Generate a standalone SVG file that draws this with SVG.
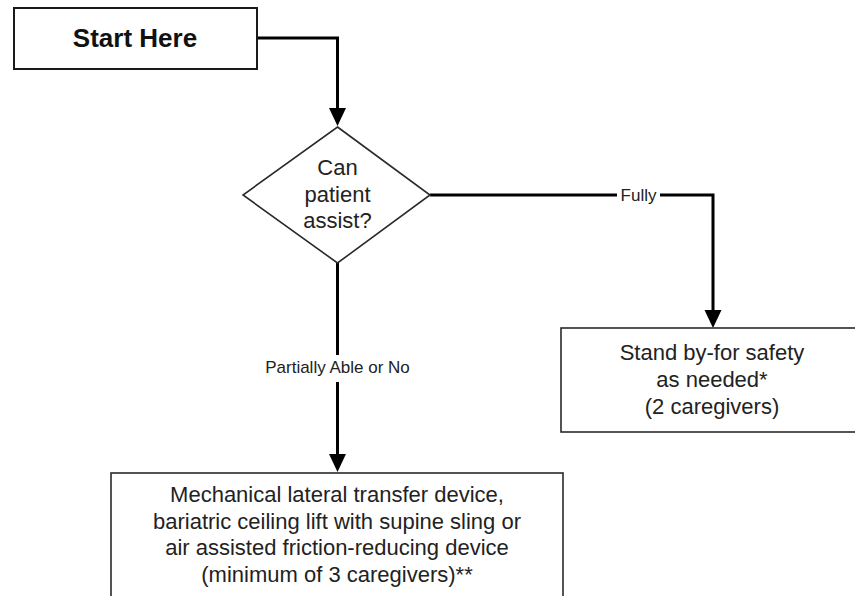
<svg xmlns="http://www.w3.org/2000/svg" width="855" height="596" viewBox="0 0 855 596">
  <style>
    .box { fill: #ffffff; stroke: #2a2a2a; stroke-width: 1.6; }
    .start { fill: #ffffff; stroke: #1a1a1a; stroke-width: 2; }
    .txt { font-family: "Liberation Sans", Arial, sans-serif; font-size: 22px; fill: #222222; text-anchor: middle; }
    .title { font-family: "Liberation Sans", Arial, sans-serif; font-size: 26px; font-weight: bold; fill: #111111; text-anchor: middle; }
    .lbl { font-family: "Liberation Sans", Arial, sans-serif; font-size: 17px; fill: #222222; text-anchor: middle; }
    .wire { fill: none; stroke: #000000; stroke-width: 3; }
  </style>
  <defs>
    <marker id="arrow" markerUnits="userSpaceOnUse" markerWidth="20" markerHeight="18" refX="8" refY="9" orient="auto">
      <path d="M0,0.5 L18,9 L0,17.5 z" fill="#000000"/>
    </marker>
  </defs>
  <rect width="855" height="596" fill="#ffffff"/>

  <g id="connectors">
    <path class="wire" d="M257,38 H337.5 V116" marker-end="url(#arrow)"/>
    <path class="wire" d="M430,195 H617"/>
    <path class="wire" d="M660,195 H713 V318" marker-end="url(#arrow)"/>
    <path class="wire" d="M337.5,263 V355"/>
    <path class="wire" d="M337.5,382 V462" marker-end="url(#arrow)"/>
    <text class="lbl" x="638.5" y="201">Fully</text>
    <text class="lbl" x="337.5" y="373">Partially Able or No</text>
  </g>

  <g id="start">
    <rect class="start" x="14" y="8" width="243" height="61"/>
    <text class="title" x="135" y="47">Start Here</text>
  </g>

  <g id="decision">
    <polygon class="box" points="337.5,127 430,195 337.5,263 243,195"/>
    <text class="txt" x="337.5" y="175">Can</text>
    <text class="txt" x="337.5" y="202">patient</text>
    <text class="txt" x="337.5" y="228">assist?</text>
  </g>

  <g id="standby">
    <rect class="box" x="561" y="328" width="305" height="104"/>
    <text class="txt" x="712" y="360">Stand by-for safety</text>
    <text class="txt" x="712" y="387">as needed*</text>
    <text class="txt" x="712" y="414">(2 caregivers)</text>
  </g>

  <g id="transfer">
    <rect class="box" x="111" y="473" width="452" height="140"/>
    <text class="txt" x="337" y="502">Mechanical lateral transfer device,</text>
    <text class="txt" x="337" y="528.5">bariatric ceiling lift with supine sling or</text>
    <text class="txt" x="337" y="555">air assisted friction-reducing device</text>
    <text class="txt" x="337" y="581.5">(minimum of 3 caregivers)**</text>
  </g>
</svg>
